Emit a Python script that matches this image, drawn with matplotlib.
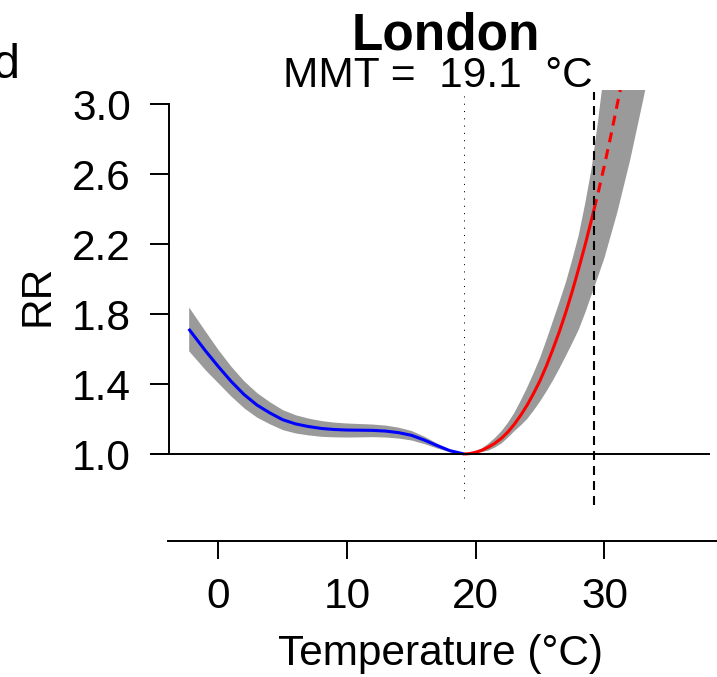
import numpy as np
import matplotlib
matplotlib.use("Agg")
from matplotlib import pyplot as plt

plt.rcParams['font.family'] = ['Liberation Sans', 'DejaVu Sans']

# exposure-response for London, cold side (blue)
temp_cold = [-2.3, -1, 0, 1, 2, 3, 4, 5, 6, 7, 8, 9, 10, 11, 12, 13, 14, 15, 16, 17, 18, 19.1]
rr_cold = [1.715, 1.59, 1.50, 1.415, 1.34, 1.28, 1.235, 1.196, 1.172, 1.157, 1.146, 1.140,
           1.137, 1.136, 1.135, 1.131, 1.122, 1.107, 1.08, 1.048, 1.019, 1.0]
lo_cold = [1.59, 1.48, 1.405, 1.33, 1.263, 1.21, 1.172, 1.139, 1.12, 1.109, 1.101, 1.098,
           1.097, 1.098, 1.099, 1.097, 1.091, 1.08, 1.059, 1.034, 1.012, 1.0]
hi_cold = [1.84, 1.70, 1.595, 1.50, 1.417, 1.35, 1.298, 1.253, 1.224, 1.205, 1.191, 1.182,
           1.177, 1.174, 1.171, 1.165, 1.153, 1.134, 1.101, 1.062, 1.026, 1.0]

# heat side (red), solid up to the 99th percentile, dashed beyond
temp_heat = [19.1, 19.5, 20, 20.5, 21, 21.5, 22, 22.5, 23, 23.5, 24, 24.5, 25, 25.5,
             26, 26.5, 27, 27.5, 28, 28.5, 29, 29.2]
rr_heat = [1.0, 1.002, 1.01, 1.022, 1.04, 1.062, 1.09, 1.126, 1.17, 1.222, 1.28, 1.347,
           1.42, 1.505, 1.60, 1.70, 1.81, 1.93, 2.06, 2.195, 2.34, 2.40]
temp_extrap = [29.2, 29.5, 30, 30.5, 31, 31.4]
rr_extrap = [2.40, 2.49, 2.65, 2.82, 3.00, 3.14]

band_temp_heat = [19.1, 19.5, 20, 20.5, 21, 21.5, 22, 22.5, 23, 23.5, 24, 24.5, 25, 25.5,
                  26, 26.5, 27, 27.5, 28, 28.5, 29, 29.5, 30, 31, 32, 33, 33.5]
band_lo_heat = [1.0, 1.001, 1.005, 1.011, 1.02, 1.037, 1.06, 1.093, 1.13, 1.163, 1.20, 1.248,
                1.30, 1.358, 1.42, 1.488, 1.56, 1.633, 1.71, 1.805, 1.91, 2.013, 2.12, 2.38,
                2.68, 3.02, 3.20]
band_hi_heat = [1.0, 1.004, 1.015, 1.033, 1.06, 1.092, 1.13, 1.178, 1.235, 1.305, 1.38, 1.462,
                1.55, 1.652, 1.76, 1.868, 1.98, 2.11, 2.25, 2.43, 2.63, 2.9, 3.2, 3.9,
                4.7, 5.6, 6.1]

mmt = 19.1
p99 = 29.2
city = "London"
x_ticks = [0, 10, 20, 30]
y_ticks = [1.0, 1.4, 1.8, 2.2, 2.6, 3.0]

W, H = 717, 677
fig = plt.figure(figsize=(W / 100, H / 100), dpi=100)


def fx(px):
    return px / W


def fy(py):
    return 1 - py / H


# plot region in pixels
left, right, top, bottom = 150.7, 710, 90, 506.5
ax = fig.add_axes([fx(left), fy(bottom), fx(right) - fx(left), fy(top) - fy(bottom)])
ax.set_xlim(-5.25, 38.2)
ax.set_ylim(0.70, 3.08)

band_col = '#9a9a9a'
ax.fill_between(temp_cold, lo_cold, hi_cold, color=band_col, lw=0)
ax.fill_between(band_temp_heat, band_lo_heat, band_hi_heat, color=band_col, lw=0)
ax.plot(temp_cold, rr_cold, color='#0000ff', lw=2.2, solid_capstyle='butt')
ax.plot(temp_heat, rr_heat, color='#ff0000', lw=2.2, solid_capstyle='butt')
ax.plot(temp_extrap, rr_extrap, color='#ff0000', lw=2.2, linestyle=(0, (3.3, 2.3)))

ax.axhline(1.0, color='black', lw=1.4)
ax.plot([mmt, mmt], [0.75, 3.07], color='black', lw=0.75, linestyle=(0, (1, 6)))
ax.plot([p99, p99], [0.71, 3.07], color='black', lw=1.5, linestyle=(0, (4.3, 2.9)))

for s in ['top', 'right']:
    ax.spines[s].set_visible(False)
ax.spines['left'].set_position(('data', -3.8))
ax.spines['left'].set_bounds(1.0, 3.0)
ax.spines['left'].set_linewidth(1.4)
ax.spines['bottom'].set_position(('outward', 24.8))
ax.spines['bottom'].set_bounds(-3.9, 42)
ax.spines['bottom'].set_linewidth(1.4)

ax.set_yticks(y_ticks)
ax.set_yticklabels([f"{v:.1f}" for v in y_ticks])
ax.set_xticks(x_ticks)
ax.set_xticklabels([str(v) for v in x_ticks])
ax.tick_params(axis='y', direction='out', length=13.7, width=1.4, pad=14, labelsize=30.5)
ax.tick_params(axis='x', direction='out', length=13, width=1.4, pad=13, labelsize=30.5)

fig.text(fx(446), fy(49), city, ha='center', va='baseline', fontsize=37, fontweight='bold')
fig.text(fx(438), fy(87), f"MMT =  {mmt}  °C", ha='center', va='baseline', fontsize=30.5)
fig.text(fx(441), fy(665), "Temperature (°C)", ha='center', va='baseline', fontsize=30.5)
fig.text(fx(38), fy(295), "RR", ha='center', va='center', rotation=90, fontsize=30.5)
# panel letter, partly cut off at the left edge as in the source figure
fig.text(fx(-7), fy(78), "d", ha='left', va='baseline', fontsize=35)

fig.savefig("out.png", dpi=100)
